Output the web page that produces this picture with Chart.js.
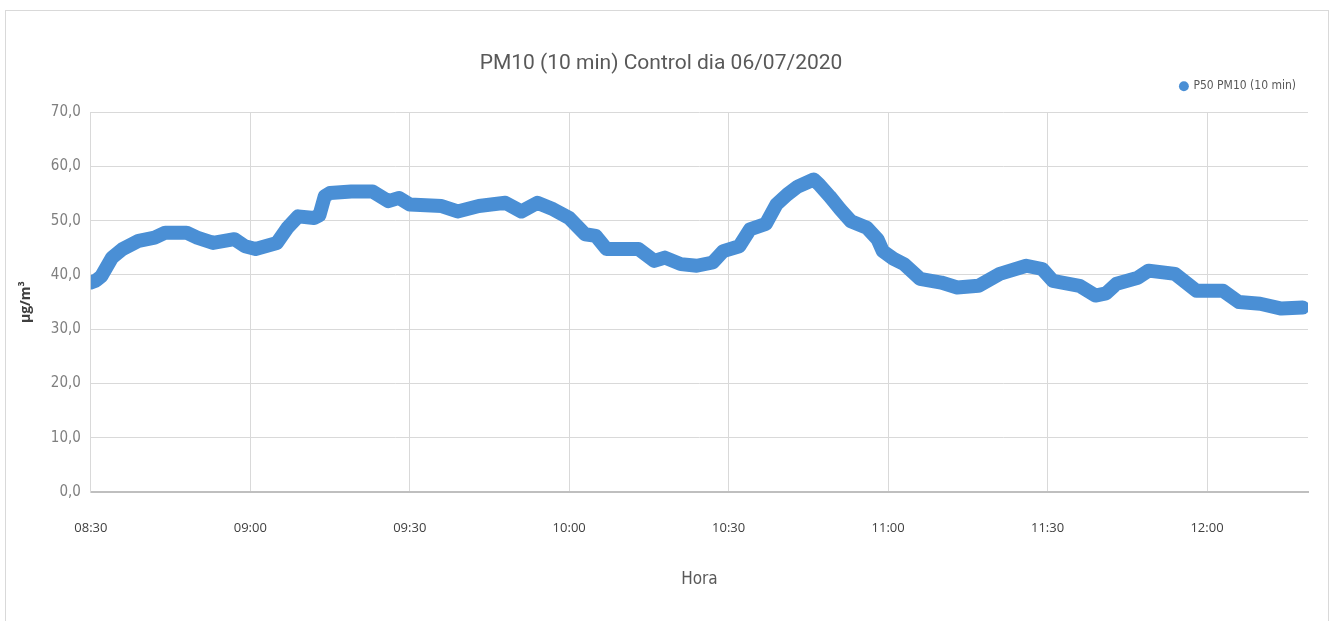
<!DOCTYPE html>
<html>
<head>
<meta charset="utf-8">
<script src="https://cdn.jsdelivr.net/npm/chart.js@4.4.0/dist/chart.umd.min.js"></script>
<style>
  html, body { margin: 0; padding: 0; background: #fff; }
  #frame { position: absolute; left: 5px; top: 10px; width: 1324px; height: 611px; border: 1px solid #d9d9d9; border-bottom: none; box-sizing: border-box; }
  #chart { display: block; }
</style>
</head>
<body>
<div id="frame"><canvas id="chart" width="1322" height="610"></canvas></div>
<script>
// readings of the P50 PM10 (10 min) line, time of day and value in µg/m³
const times = [
  "08:30", "08:31", "08:32", "08:34", "08:36", "08:39", "08:42", "08:44", "08:48", "08:50",
  "08:53", "08:57", "08:59", "09:01", "09:05", "09:07", "09:09", "09:12", "09:13", "09:14",
  "09:15", "09:19", "09:23", "09:26", "09:28", "09:30", "09:36", "09:39", "09:43", "09:48",
  "09:51", "09:54", "09:57", "10:00", "10:03", "10:05", "10:07", "10:13", "10:16", "10:18",
  "10:21", "10:24", "10:27", "10:29", "10:32", "10:34", "10:37", "10:39", "10:41", "10:43",
  "10:46", "10:47", "10:49", "10:51", "10:53", "10:56", "10:58", "10:59", "11:01", "11:03",
  "11:06", "11:10", "11:13", "11:17", "11:21", "11:26", "11:29", "11:31", "11:36", "11:39",
  "11:41", "11:43", "11:47", "11:49", "11:54", "11:58", "12:03", "12:06", "12:10", "12:14",
  "12:18"
];
const pm10 = [
  38.6, 39.0, 39.8, 43.2, 44.8, 46.3, 46.9, 47.8, 47.8, 46.9,
  45.9, 46.6, 45.3, 44.8, 45.9, 48.7, 50.8, 50.5, 51.0, 54.5,
  55.1, 55.4, 55.4, 53.6, 54.2, 53.0, 52.7, 51.7, 52.7, 53.3,
  51.7, 53.3, 52.1, 50.5, 47.5, 47.2, 44.8, 44.8, 42.6, 43.2,
  42.0, 41.7, 42.3, 44.4, 45.3, 48.4, 49.4, 53.0, 54.8, 56.3,
  57.6, 56.7, 54.5, 52.1, 49.9, 48.7, 46.6, 44.4, 43.0, 42.0,
  39.3, 38.6, 37.7, 38.0, 40.2, 41.7, 41.1, 38.9, 38.0, 36.2,
  36.6, 38.4, 39.5, 40.8, 40.2, 37.1, 37.1, 35.0, 34.7, 33.8,
  34.0
];
const startTime = "08:30";
const endTime = "12:19";
const xTickStep = 30;
const yMax = 70;
const yStep = 10;

function toMin(t) {
  var p = t.split(":");
  return parseInt(p[0]) * 60 + parseInt(p[1]);
}
function toLabel(m) {
  var h = Math.floor(m / 60), mm = m % 60;
  return String(h).padStart(2, "0") + ":" + String(mm).padStart(2, "0");
}

const t0 = toMin(startTime);
const points = times.map((t, i) => ({ x: toMin(t) - t0, y: pm10[i] }));

const narrow = "'DejaVu Sans Condensed', sans-serif";
const blue = "#4a8fd5";

// extra room between the legend and the plot
const legendGap = {
  id: "legendGap",
  beforeInit: function (chart) {
    var fit = chart.legend.fit;
    chart.legend.fit = function () {
      fit.bind(chart.legend)();
      this.height += 10;
    };
  }
};

new Chart(document.getElementById("chart"), {
  type: "line",
  data: {
    datasets: [{
      label: "P50 PM10 (10 min)",
      data: points,
      borderColor: blue,
      backgroundColor: blue,
      borderWidth: 14,
      borderJoinStyle: "round",
      borderCapStyle: "round",
      pointRadius: 0,
      pointStyle: "circle",
      tension: 0
    }]
  },
  options: {
    responsive: false,
    animation: false,
    layout: { padding: { left: 8, right: 20, top: 14, bottom: 27 } },
    plugins: {
      title: {
        display: true,
        text: "PM10 (10 min) Control dia 06/07/2020",
        color: "#595959",
        font: { family: "Roboto, sans-serif", size: 21, weight: "normal" },
        padding: { top: 26, bottom: -8 }
      },
      legend: {
        position: "top",
        align: "end",
        labels: {
          usePointStyle: true,
          boxWidth: 7,
          boxHeight: 7,
          color: "#595959",
          font: { family: narrow, size: 12 },
          padding: 12,
          generateLabels: function (chart) {
            return Chart.defaults.plugins.legend.labels.generateLabels(chart)
              .map(l => Object.assign(l, { lineWidth: 0 }));
          }
        }
      },
      tooltip: { enabled: false }
    },
    scales: {
      x: {
        type: "linear",
        min: 0,
        max: toMin(endTime) - t0,
        afterBuildTicks: function (scale) {
          scale.ticks = scale.ticks.filter(t => t.value % xTickStep === 0);
        },
        ticks: {
          stepSize: xTickStep,
          color: "#404040",
          font: { family: "'Open Sans', sans-serif", size: 13 },
          padding: 28,
          maxRotation: 0,
          callback: v => toLabel(t0 + v)
        },
        grid: { color: "#d9d9d9", drawTicks: false },
        border: { color: "#bfbfbf", width: 2 },
        title: {
          display: true,
          text: "Hora",
          color: "#595959",
          font: { family: narrow, size: 17 },
          padding: { top: 6 }
        }
      },
      y: {
        min: 0,
        max: yMax,
        ticks: {
          stepSize: yStep,
          color: "#7f7f7f",
          font: { family: narrow, size: 15 },
          padding: 10,
          callback: v => v.toFixed(1).replace(".", ",")
        },
        grid: { color: "#d9d9d9", drawTicks: false },
        border: { color: "#d9d9d9" },
        title: {
          display: true,
          text: "µg/m³",
          color: "#404040",
          font: { family: "'Open Sans', sans-serif", size: 14, weight: "bold" },
          padding: { bottom: 6 }
        }
      }
    }
  },
  plugins: [legendGap]
});
</script>
</body>
</html>
